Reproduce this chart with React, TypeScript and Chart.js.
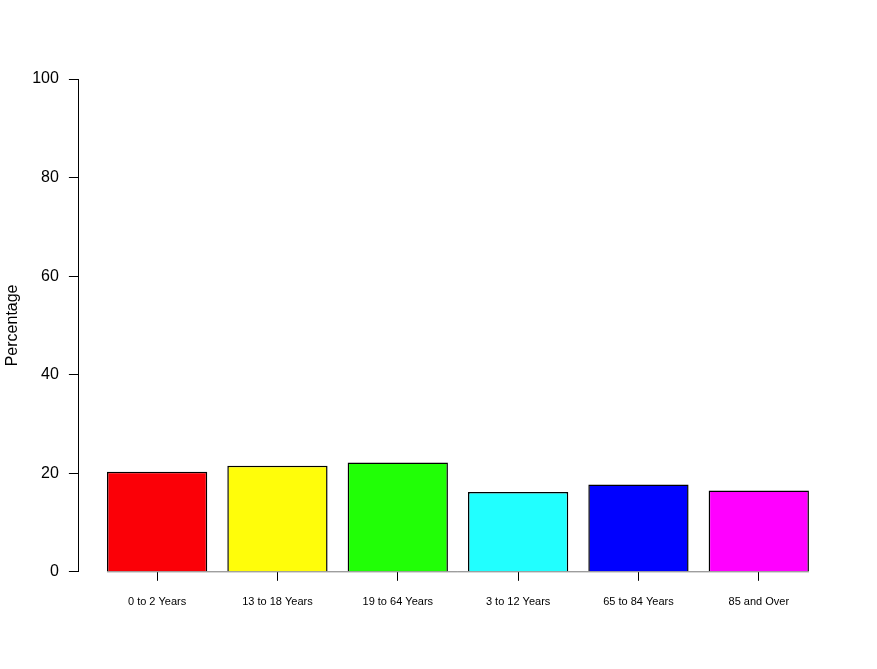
import React, { useEffect, useRef } from "react";
import { Chart, registerables } from "chart.js";

Chart.register(...registerables);

const categories = ["0 to 2 Years", "13 to 18 Years", "19 to 64 Years", "3 to 12 Years", "65 to 84 Years", "85 and Over"];
const percentages = [20.3, 21.5, 22.2, 16.2, 17.7, 16.5];
const barColors = ["#fb0007", "#fffd0a", "#21ff06", "#21ffff", "#0000ff", "#ff00ff"];
const yTicks = [0, 20, 40, 60, 80, 100];

// R barplot layout: width 1, space 0.2
const barSpace = 0.2;
const barWidth = 1;
const slot = barSpace + barWidth;
const centers = categories.map((_, i) => barSpace + barWidth / 2 + slot * i);
const span = slot * categories.length;
const xMin = barSpace - 0.04 * (span - barSpace);
const xMax = span + 0.04 * (span - barSpace);

const FONT = "'Liberation Sans', Arial, Helvetica, sans-serif";

const baselinePlugin = {
  id: "baseline",
  beforeDatasetsDraw(chart: any) {
    const meta = chart.getDatasetMeta(0);
    if (!meta || !meta.data.length) return;
    const first = meta.data[0];
    const last = meta.data[meta.data.length - 1];
    const y = chart.scales.y.getPixelForValue(0);
    const ctx = chart.ctx;
    ctx.save();
    ctx.strokeStyle = "#777777";
    ctx.lineWidth = 1;
    ctx.beginPath();
    ctx.moveTo(first.x - first.width / 2, y);
    ctx.lineTo(last.x + last.width / 2, y);
    ctx.stroke();
    ctx.restore();
  },
};

export default function App() {
  const ref = useRef<HTMLCanvasElement | null>(null);

  useEffect(() => {
    document.body.style.margin = "0";
    const canvas = ref.current!;
    const chart = new Chart(canvas, {
      type: "bar",
      data: {
        datasets: [
          {
            data: centers.map((x, i) => ({ x, y: percentages[i] })),
            backgroundColor: barColors,
            borderColor: "#000000",
            borderWidth: 1.5,
            barPercentage: barWidth / slot,
            categoryPercentage: 1,
          },
        ],
      },
      options: {
        animation: false,
        responsive: false,
        devicePixelRatio: 1,
        layout: { padding: { left: 1, right: 40, top: 79, bottom: 45 } },
        plugins: { legend: { display: false }, tooltip: { enabled: false } },
        scales: {
          x: {
            type: "linear",
            offset: false,
            min: xMin,
            max: xMax,
            afterBuildTicks: (scale: any) => {
              scale.ticks = centers.map((v) => ({ value: v }));
            },
            ticks: {
              autoSkip: false,
              maxRotation: 0,
              padding: 15,
              color: "#000000",
              font: { family: FONT, size: 11 },
              callback: (_v: any, i: number) => categories[i],
            },
            grid: { offset: false, drawOnChartArea: false, drawTicks: true, tickLength: 9, color: "#000000" },
            border: { display: false },
          },
          y: {
            min: 0,
            max: 100,
            afterBuildTicks: (scale: any) => {
              scale.ticks = yTicks.map((v) => ({ value: v }));
            },
            ticks: {
              padding: 10,
              color: "#000000",
              font: { family: FONT, size: 16 },
            },
            grid: { drawOnChartArea: false, drawTicks: true, tickLength: 10, color: "#000000" },
            border: { display: true, color: "#000000", width: 1 },
            title: {
              display: true,
              text: "Percentage",
              color: "#000000",
              font: { family: FONT, size: 16 },
              padding: { top: 2, bottom: 0 },
            },
          },
        },
      },
      plugins: [baselinePlugin],
    } as any);
    return () => chart.destroy();
  }, []);

  return <canvas ref={ref} width={877} height={669} style={{ display: "block" }} />;
}
